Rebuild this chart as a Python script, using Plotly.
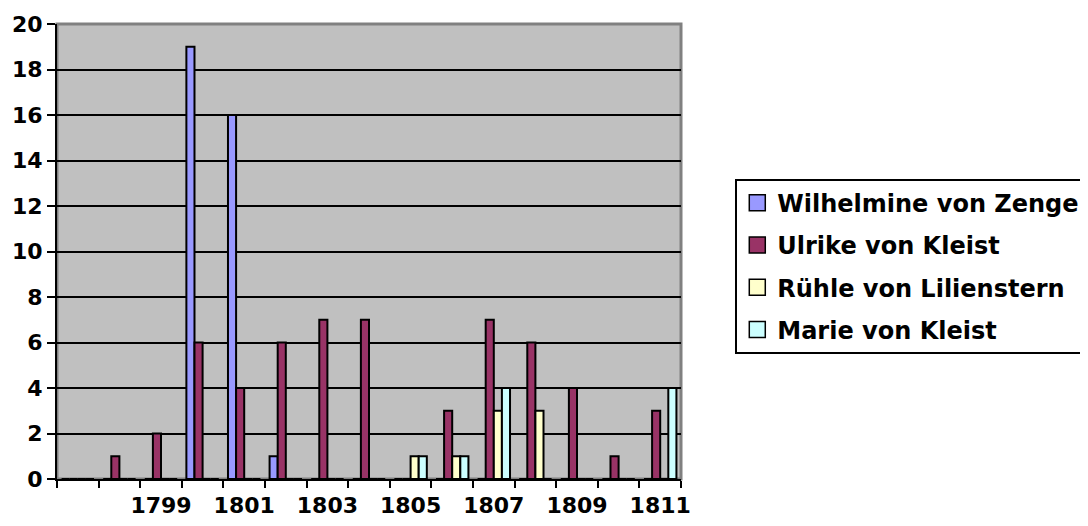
import plotly.graph_objects as go

years = [1797, 1798, 1799, 1800, 1801, 1802, 1803, 1804, 1805, 1806, 1807, 1808, 1809, 1810, 1811]
wilhelmine = [0, 0, 0, 19, 16, 1, 0, 0, 0, 0, 0, 0, 0, 0, 0]
ulrike = [0, 1, 2, 6, 4, 6, 7, 7, 0, 3, 7, 6, 4, 1, 3]
ruehle = [0, 0, 0, 0, 0, 0, 0, 0, 1, 1, 3, 3, 0, 0, 0]
marie = [0, 0, 0, 0, 0, 0, 0, 0, 1, 1, 4, 0, 0, 0, 4]
names = ["Wilhelmine von Zenge", "Ulrike von Kleist", "Rühle von Lilienstern", "Marie von Kleist"]
colors = ["#9999FF", "#993366", "#FFFFCC", "#CCFFFF"]
label_years = [1799, 1801, 1803, 1805, 1807, 1809, 1811]
y_ticks = list(range(0, 21, 2))

FONT = "DejaVu Sans"

fig = go.Figure()
for i, (name, vals, col) in enumerate(zip(names, [wilhelmine, ulrike, ruehle, marie], colors)):
    fig.add_trace(go.Bar(
        x=years, y=vals, name=name, legendgroup=f"g{i}", showlegend=False,
        marker=dict(color=col, line=dict(color="black", width=2)),
    ))
# legend entries with square swatches
for i, (name, col) in enumerate(zip(names, colors)):
    fig.add_trace(go.Scatter(
        x=[None], y=[None], mode="markers", name=name, legendgroup=f"g{i}",
        marker=dict(symbol="square", size=16, color=col, line=dict(color="black", width=1.5)),
    ))

boundaries = [y - 0.5 for y in years] + [years[-1] + 0.5]

fig.update_layout(
    width=1080, height=518,
    margin=dict(l=49, r=407, t=16, b=47, autoexpand=False),
    paper_bgcolor="white",
    plot_bgcolor="#C0C0C0",
    barmode="group",
    bargap=0.22,
    bargroupgap=0,
    font=dict(family=FONT, size=22, color="black", weight="bold"),
    legend=dict(
        x=1.087, xanchor="left", y=0.66, yanchor="top",
        bgcolor="white", bordercolor="black", borderwidth=2,
        font=dict(family=FONT, size=24, color="black", weight="bold"),
        tracegroupgap=8, traceorder="grouped",
    ),
    xaxis=dict(
        range=[years[0] - 0.5, years[-1] + 0.5],
        tickmode="array", tickvals=label_years, ticktext=[str(y) for y in label_years],
        ticks="", ticklabelstandoff=6,
        showgrid=False, zeroline=False,
        showline=True, linecolor="black", linewidth=2,
        minor=dict(tickmode="array", tickvals=boundaries, ticks="outside", ticklen=7,
                   tickcolor="black", tickwidth=2, showgrid=False),
        tickfont=dict(family=FONT, size=22, color="black", weight="bold"),
    ),
    yaxis=dict(
        range=[0, 20],
        tickmode="array", tickvals=y_ticks,
        ticks="outside", ticklen=8, tickwidth=2, tickcolor="black",
        showgrid=True, gridcolor="black", gridwidth=1.5,
        zeroline=False,
        showline=True, linecolor="black", linewidth=2,
        tickfont=dict(family=FONT, size=22, color="black", weight="bold"),
    ),
    shapes=[dict(type="rect", xref="paper", yref="paper", x0=0, x1=1, y0=0, y1=1,
                 line=dict(color="#808080", width=3), layer="below")],
)

fig.write_html("out.html")
